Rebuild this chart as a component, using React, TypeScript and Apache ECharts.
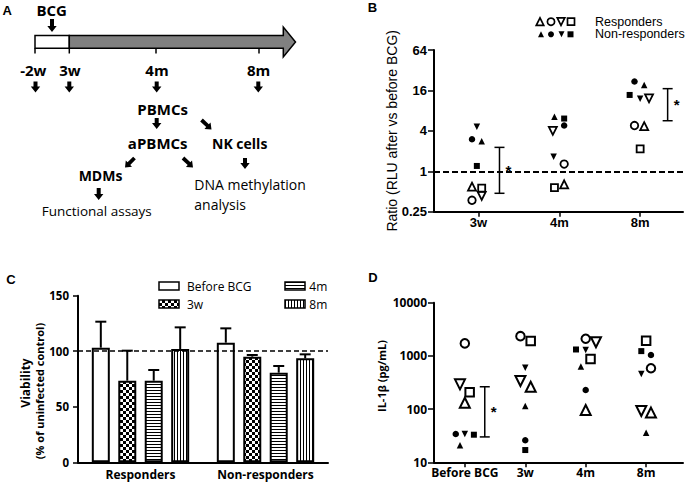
import React, { useEffect, useRef } from 'react';
import * as echarts from 'echarts';

// ---------------- Panel B: ratio (RLU after vs before BCG) ----------------
const bCategories = ['3w', '4m', '8m'];
const bRespTriangle = [0.59, 0.64, 4.7];
const bRespCircle = [0.37, 1.28, 4.8];
const bRespInvTriangle = [0.43, 4.0, 12.2];
const bRespSquare = [0.56, 0.57, 2.15];
const bNonTriangle = [2.8, 6.5, 19.3];
const bNonCircle = [3.0, 4.8, 21.7];
const bNonInvTriangle = [4.6, 1.65, 12.0];
const bNonSquare = [1.2, 6.1, 13.7];
// horizontal jitter (category units)
const bJitRespTriangle = [-0.08, 0.06, 0.05];
const bJitRespCircle = [-0.08, 0.06, -0.07];
const bJitRespInvTriangle = [0.04, -0.08, 0.11];
const bJitRespSquare = [0.04, -0.06, 0];
const bJitNonTriangle = [0.04, -0.06, 0.05];
const bJitNonCircle = [-0.08, 0.06, -0.07];
const bJitNonInvTriangle = [-0.02, -0.07, 0];
const bJitNonSquare = [-0.02, 0.06, -0.13];
// significance brackets: [category, low, high]
const bBrackets = [[0, 0.47, 2.27], [2, 5.66, 17]];
const bBracketShift = [0.26, 0.34];

// ---------------- Panel C: viability ----------------
const cCategories = ['Responders', 'Non-responders'];
const cNames = ['Before BCG', '3w', '4m', '8m'];
const cBeforeMean = [103.2, 107.7];
const c3wMean = [73.5, 95.1];
const c4mMean = [73.5, 80.7];
const c8mMean = [102, 93.6];
const cBeforeErr = [23.4, 12.9];
const c3wErr = [27, 1.5];
const c4mErr = [9.6, 6];
const c8mErr = [19.5, 3.6];

// ---------------- Panel D: IL-1β ----------------
const dCategories = ['Before BCG', '3w', '4m', '8m'];
const dRespTriangle = [132, 263, 96, 86];
const dRespCircle = [1718, 2350, 2100, 585];
const dRespInvTriangle = [292, 337, 1800, 92];
const dRespSquare = [207, 1900, 870, 1930];
const dNonTriangle = [21, 114, 630, 36];
const dNonCircle = [34, 26, 228, 1040];
const dNonInvTriangle = [34, 600, 1290, 455];
const dNonSquare = [33, 17, 1320, 1230];
const dJitRespTriangle = [0, 0.09, 0, 0.08];
const dJitRespCircle = [0, -0.08, 0, 0.08];
const dJitRespInvTriangle = [-0.08, -0.08, 0.17, -0.08];
const dJitRespSquare = [0.08, 0.09, 0.08, 0];
const dJitNonTriangle = [-0.08, 0, -0.08, 0];
const dJitNonCircle = [-0.15, 0, 0, 0.08];
const dJitNonInvTriangle = [0, 0, 0, -0.08];
const dJitNonSquare = [0.15, 0, -0.16, -0.08];
const dBrackets = [[0, 30, 263]];
const dBracketShift = [0.33];

const W = 685;
const H = 484;
const FB = '"Liberation Sans", Arial, sans-serif';
const FO = '"Open Sans", "Noto Sans", sans-serif';
const BAR_W = 18;
const BAR_GAP = 0.47;

function makePattern(kind: string) {
  const c = document.createElement('canvas');
  const ctx = c.getContext('2d')!;
  if (kind === 'checker') {
    c.width = 6; c.height = 6;
    ctx.fillStyle = '#fff'; ctx.fillRect(0, 0, 6, 6);
    ctx.fillStyle = '#000'; ctx.fillRect(0, 0, 3, 3); ctx.fillRect(3, 3, 3, 3);
  } else if (kind === 'h') {
    c.width = 4; c.height = 3;
    ctx.fillStyle = '#fff'; ctx.fillRect(0, 0, 4, 3);
    ctx.fillStyle = '#000'; ctx.fillRect(0, 0, 4, 1);
  } else if (kind === 'v') {
    c.width = 3; c.height = 4;
    ctx.fillStyle = '#fff'; ctx.fillRect(0, 0, 3, 4);
    ctx.fillStyle = '#000'; ctx.fillRect(0, 0, 1, 4);
  } else {
    return '#fff';
  }
  return { image: c, repeat: 'repeat', imageWidth: c.width, imageHeight: c.height } as any;
}

function scatter(values: number[], jit: number[], shape: string, open: boolean, xi: number, yi: number, openSize: number, filledSize: number, bw: number) {
  return {
    type: 'scatter',
    xAxisIndex: xi,
    yAxisIndex: yi,
    symbol: shape === 'inv' ? 'triangle' : shape,
    symbolRotate: shape === 'inv' ? 180 : 0,
    symbolSize: open ? openSize : filledSize,
    itemStyle: open
      ? { color: '#fff', borderColor: '#000', borderWidth: bw, opacity: 1 }
      : { color: '#000', borderWidth: 0, opacity: 1 },
    data: values.map((v, i) => [i + jit[i], v]),
    z: 5,
  };
}

function bracketSeries(data: number[][], shifts: number[], xi: number, yi: number, logBase: number) {
  return {
    type: 'custom',
    xAxisIndex: xi,
    yAxisIndex: yi,
    encode: { x: 0, y: [1, 2] },
    data: data.map((b, i) => [b[0] + shifts[i], b[1], b[2]]),
    renderItem: (_p: any, api: any) => {
      const x = api.value(0);
      const lo = api.value(1);
      const hi = api.value(2);
      const t = api.coord([x, hi]);
      const b = api.coord([x, lo]);
      const mid = api.coord([x, Math.pow(logBase, (Math.log(lo) + Math.log(hi)) / 2 / Math.log(logBase))]);
      const cap = 5;
      const st = { stroke: '#000', lineWidth: 1.5 };
      return {
        type: 'group',
        children: [
          { type: 'line', shape: { x1: t[0], y1: t[1], x2: b[0], y2: b[1] }, style: st },
          { type: 'line', shape: { x1: t[0] - cap, y1: t[1], x2: t[0] + cap, y2: t[1] }, style: st },
          { type: 'line', shape: { x1: b[0] - cap, y1: b[1], x2: b[0] + cap, y2: b[1] }, style: st },
          {
            type: 'text',
            style: { text: '*', x: t[0] + 9, y: mid[1], fill: '#000', font: 'bold 15px ' + FB, textAlign: 'center', textVerticalAlign: 'middle' },
          },
        ],
      };
    },
    z: 4,
  };
}

function arrowPts(x0: number, y0: number, x1: number, y1: number, sw = 2, hw = 4.7, hl = 6) {
  const dx = x1 - x0, dy = y1 - y0;
  const L = Math.hypot(dx, dy);
  const ux = dx / L, uy = dy / L;
  const px = -uy, py = ux;
  const bx = x1 - ux * hl, by = y1 - uy * hl;
  return [
    [x0 + px * sw, y0 + py * sw],
    [bx + px * sw, by + py * sw],
    [bx + px * hw, by + py * hw],
    [x1, y1],
    [bx - px * hw, by - py * hw],
    [bx - px * sw, by - py * sw],
    [x0 - px * sw, y0 - py * sw],
  ];
}

function txt(text: string, x: number, y: number, font: string, align = 'center', rotation = 0) {
  return {
    type: 'text',
    x, y, rotation,
    style: { text, x: 0, y: 0, fill: '#000', font, textAlign: align, textVerticalAlign: 'middle' },
    z: 10,
  };
}

function tri(cx: number, cy: number, s: number, inv: boolean) {
  const h = s / 2;
  return inv
    ? [[cx - h, cy - h], [cx + h, cy - h], [cx, cy + h]]
    : [[cx, cy - h], [cx + h, cy + h], [cx - h, cy + h]];
}

function buildGraphic() {
  const patterns = [makePattern('none'), makePattern('checker'), makePattern('h'), makePattern('v')];
  const arrows = [
    arrowPts(52, 19, 52, 32),
    arrowPts(35.5, 81.5, 35.5, 92.5),
    arrowPts(69.3, 81.5, 69.3, 92.5),
    arrowPts(156.7, 81.5, 156.7, 92.5),
    arrowPts(258.3, 81.5, 258.3, 92.5),
    arrowPts(156.7, 118, 156.7, 129),
    arrowPts(201.5, 120, 211.5, 129.5, 1.9, 4.4, 5.5),
    arrowPts(134.5, 158, 125, 167.5, 1.9, 4.4, 5.5),
    arrowPts(183, 158, 193, 167.5, 1.9, 4.4, 5.5),
    arrowPts(245, 158, 245, 169),
    arrowPts(98.7, 188, 98.7, 200),
  ];

  return [
    // Panel A timeline
    { type: 'rect', shape: { x: 35, y: 35.5, width: 34.3, height: 12.8 }, style: { fill: '#fff', stroke: '#000', lineWidth: 1.5 } },
    {
      type: 'polygon',
      shape: { points: [[69.3, 35.5], [283.3, 35.5], [283.3, 27], [295.5, 42], [283.3, 57], [283.3, 48.3], [69.3, 48.3]] },
      style: { fill: '#808080', stroke: '#000', lineWidth: 1.5 },
    },
    ...[35, 69.3, 156, 259].map((x) => ({ type: 'line', shape: { x1: x, y1: 48.3, x2: x, y2: 53.5 }, style: { stroke: '#000', lineWidth: 1.5 } })),
    ...arrows.map((p) => ({ type: 'polygon', shape: { points: p }, style: { fill: '#000' } })),
    txt('A', 7.2, 10.8, 'bold 13px ' + FB),
    txt('BCG', 51.7, 10, 'bold 15px ' + FO),
    txt('-2w', 33.3, 70, 'bold 15px ' + FO),
    txt('3w', 70, 70, 'bold 15px ' + FO),
    txt('4m', 157, 70, 'bold 15px ' + FO),
    txt('8m', 258.7, 70, 'bold 15px ' + FO),
    txt('PBMCs', 162.7, 108.7, 'bold 15px ' + FO),
    txt('aPBMCs', 157.7, 143, 'bold 15px ' + FO),
    txt('NK cells', 239.7, 143, 'bold 14px ' + FO),
    txt('MDMs', 100.5, 175.3, 'bold 14px ' + FO),
    txt('DNA methylation', 194.3, 184, '14px ' + FO, 'left'),
    txt('analysis', 194.3, 204.5, '14px ' + FO, 'left'),
    txt('Functional assays', 41.7, 211, '13.5px ' + FO, 'left'),

    // Panel letters
    txt('B', 372.5, 7.5, 'bold 13px ' + FB),
    txt('C', 11, 279, 'bold 13px ' + FB),
    txt('D', 373, 277.5, 'bold 13px ' + FB),

    // Axis titles
    txt('Ratio (RLU after vs before BCG)', 391.5, 130.8, '14px ' + FB, 'center', Math.PI / 2),
    txt('Viability', 25.5, 383, 'bold 12px ' + FO, 'center', Math.PI / 2),
    txt('(% of uninfected control)', 39.5, 391, 'bold 11px ' + FO, 'center', Math.PI / 2),
    txt('IL-1β (pg/mL)', 381, 376, 'bold 11px ' + FO, 'center', Math.PI / 2),

    // Panel B legend
    { type: 'polygon', shape: { points: tri(540, 21.7, 7.5, false) }, style: { fill: '#fff', stroke: '#000', lineWidth: 1.7 } },
    { type: 'circle', shape: { cx: 551, cy: 21.7, r: 3.6 }, style: { fill: '#fff', stroke: '#000', lineWidth: 1.7 } },
    { type: 'polygon', shape: { points: tri(561, 21.7, 7.5, true) }, style: { fill: '#fff', stroke: '#000', lineWidth: 1.7 } },
    { type: 'rect', shape: { x: 567.5, y: 18.2, width: 7, height: 7 }, style: { fill: '#fff', stroke: '#000', lineWidth: 1.7 } },
    { type: 'polygon', shape: { points: tri(541, 34.3, 6, false) }, style: { fill: '#000' } },
    { type: 'circle', shape: { cx: 551, cy: 34.3, r: 3 }, style: { fill: '#000' } },
    { type: 'polygon', shape: { points: tri(561.5, 34.3, 6, true) }, style: { fill: '#000' } },
    { type: 'rect', shape: { x: 567.5, y: 31.3, width: 6, height: 6 }, style: { fill: '#000' } },
    txt('Responders', 595, 21.7, '12.5px ' + FB, 'left'),
    txt('Non-responders', 595, 34.3, '12.5px ' + FB, 'left'),

    // Panel C legend
    ...[
      [159, 282, 187, 286, 0],
      [159, 300, 187, 304, 1],
      [285, 282, 309.3, 286, 2],
      [285, 300, 309.3, 304, 3],
    ].flatMap(([bx, by, tx, ty, i]) => [
      { type: 'rect', shape: { x: bx, y: by, width: 20, height: 8 }, style: { fill: patterns[i], stroke: '#000', lineWidth: 1.5 } },
      txt(cNames[i], tx, ty, '12px ' + FO, 'left'),
    ]),
  ];
}

function buildOption() {
  const patterns = [makePattern('none'), makePattern('checker'), makePattern('h'), makePattern('v')];
  const cMeans = [cBeforeMean, c3wMean, c4mMean, c8mMean];
  const cErrs = [cBeforeErr, c3wErr, c4mErr, c8mErr];

  // GraphPad-style minor ticks (axis furniture, not data)
  const bMinor: number[] = [];
  [0.25, 1, 4, 16].forEach((v0) => { for (let k = 1; k <= 11; k++) bMinor.push(v0 * (1 + k / 4)); });
  const dMinor: number[] = [];
  [10, 100, 1000].forEach((v0) => { for (let k = 2; k <= 9; k++) dMinor.push(v0 * k); });

  const axisLineStyle = { color: '#000', width: 2 };
  const tickStyle = { color: '#000', width: 1.5 };

  const bSeries = [
    scatter(bNonTriangle, bJitNonTriangle, 'triangle', false, 0, 0, 7.5, 6.5, 1.8),
    scatter(bNonCircle, bJitNonCircle, 'circle', false, 0, 0, 7.5, 6.5, 1.8),
    scatter(bNonInvTriangle, bJitNonInvTriangle, 'inv', false, 0, 0, 7.5, 6.5, 1.8),
    scatter(bNonSquare, bJitNonSquare, 'rect', false, 0, 0, 7.5, 6, 1.8),
    scatter(bRespTriangle, bJitRespTriangle, 'triangle', true, 0, 0, 8, 6.5, 1.8),
    scatter(bRespCircle, bJitRespCircle, 'circle', true, 0, 0, 7.5, 6.5, 1.8),
    scatter(bRespInvTriangle, bJitRespInvTriangle, 'inv', true, 0, 0, 8, 6.5, 1.8),
    scatter(bRespSquare, bJitRespSquare, 'rect', true, 0, 0, 7, 6.5, 1.8),
    bracketSeries(bBrackets, bBracketShift, 0, 0, 4),
    {
      type: 'line', xAxisIndex: 0, yAxisIndex: 0, data: [], z: 1,
      markLine: {
        silent: true, symbol: ['none', 'none'], label: { show: false },
        lineStyle: { type: [6, 3], color: '#000', width: 2 },
        data: [{ yAxis: 1 }],
      },
    },
  ];

  const cSeries: any[] = cMeans.map((m, i) => ({
    type: 'bar',
    name: cNames[i],
    xAxisIndex: 1,
    yAxisIndex: 2,
    barWidth: BAR_W,
    barGap: BAR_GAP * 100 + '%',
    data: m,
    itemStyle: { color: patterns[i], borderColor: '#000', borderWidth: 2 },
    z: 3,
  }));
  cSeries.push({
    type: 'custom',
    xAxisIndex: 1,
    yAxisIndex: 2,
    encode: { x: 0, y: 1 },
    data: cMeans.flatMap((m, si) => m.map((v, ci) => [ci, v, cErrs[si][ci], si])),
    renderItem: (_p: any, api: any) => {
      const ci = api.value(0);
      const m = api.value(1);
      const e = api.value(2);
      const si = api.value(3);
      const base = api.coord([ci, m]);
      const top = api.coord([ci, m + e]);
      const x = base[0] + (si - 1.5) * (BAR_W * (1 + BAR_GAP));
      const st = { stroke: '#000', lineWidth: 2 };
      return {
        type: 'group',
        children: [
          { type: 'line', shape: { x1: x, y1: base[1], x2: x, y2: top[1] }, style: st },
          { type: 'line', shape: { x1: x - 5.5, y1: top[1], x2: x + 5.5, y2: top[1] }, style: st },
        ],
      };
    },
    z: 4,
  });
  cSeries.push({
    type: 'line', xAxisIndex: 1, yAxisIndex: 2, data: [], z: 1,
    markLine: {
      silent: true, symbol: ['none', 'none'], label: { show: false },
      lineStyle: { type: [5, 3], color: '#000', width: 1.5 },
      data: [{ yAxis: 100 }],
    },
  });

  const dSeries = [
    scatter(dNonTriangle, dJitNonTriangle, 'triangle', false, 2, 3, 9, 6.5, 2),
    scatter(dNonCircle, dJitNonCircle, 'circle', false, 2, 3, 9, 6.5, 2),
    scatter(dNonInvTriangle, dJitNonInvTriangle, 'inv', false, 2, 3, 9, 6.5, 2),
    scatter(dNonSquare, dJitNonSquare, 'rect', false, 2, 3, 9, 6, 2),
    scatter(dRespTriangle, dJitRespTriangle, 'triangle', true, 2, 3, 10, 6.5, 2),
    scatter(dRespCircle, dJitRespCircle, 'circle', true, 2, 3, 8.5, 6.5, 2),
    scatter(dRespInvTriangle, dJitRespInvTriangle, 'inv', true, 2, 3, 10, 6.5, 2),
    scatter(dRespSquare, dJitRespSquare, 'rect', true, 2, 3, 8.5, 6.5, 2),
    bracketSeries(dBrackets, dBracketShift, 2, 3, 10),
  ];

  return {
    animation: false,
    backgroundColor: '#fff',
    grid: [
      { left: 434, top: 50, width: 249, height: 161.7 },
      { left: 78, top: 295.7, width: 250, height: 166.6 },
      { left: 434, top: 302.7, width: 249, height: 159.6 },
    ],
    xAxis: [
      {
        type: 'value', gridIndex: 0, min: -0.55, max: 2.53,
        axisLine: { show: true, onZero: false, lineStyle: axisLineStyle },
        axisTick: { show: true, customValues: [0, 1, 2], length: 5, lineStyle: tickStyle },
        axisLabel: {
          customValues: [0, 1, 2], formatter: (v: number) => bCategories[Math.round(v)],
          color: '#000', fontFamily: FB, fontWeight: 'bold', fontSize: 13, margin: 4,
        },
        splitLine: { show: false },
      },
      {
        type: 'category', gridIndex: 1, data: cCategories,
        axisLine: { show: true, onZero: false, lineStyle: axisLineStyle },
        axisTick: { show: false },
        axisLabel: { interval: 0, color: '#000', fontFamily: FO, fontWeight: 'bold', fontSize: 12, margin: 6 },
      },
      {
        type: 'value', gridIndex: 2, min: -0.51, max: 3.61,
        axisLine: { show: true, onZero: false, lineStyle: axisLineStyle },
        axisTick: { show: true, customValues: [0, 1, 2, 3], length: 5, lineStyle: tickStyle },
        axisLabel: {
          customValues: [0, 1, 2, 3], formatter: (v: number) => dCategories[Math.round(v)],
          color: '#000', fontFamily: FO, fontWeight: 'bold', fontSize: 12, margin: 4,
        },
        splitLine: { show: false },
      },
    ],
    yAxis: [
      {
        type: 'log', logBase: 4, gridIndex: 0, min: 0.25, max: 64,
        axisLine: { show: true, onZero: false, lineStyle: axisLineStyle },
        axisTick: { show: true, length: 6, lineStyle: tickStyle },
        axisLabel: {
          formatter: (v: number) => String(v),
          color: '#000', fontFamily: FB, fontWeight: 'bold', fontSize: 13, margin: 7,
        },
        splitLine: { show: false },
      },
      {
        // minor ticks on the B axis (same scale, drawn on top, no line/labels)
        type: 'log', logBase: 4, gridIndex: 0, min: 0.25, max: 64, position: 'right', offset: 249,
        axisLine: { show: false, onZero: false },
        axisTick: { show: true, inside: true, customValues: bMinor, length: 4, lineStyle: { color: '#000', width: 1.2 } },
        axisLabel: { show: false },
        splitLine: { show: false },
      },
      {
        type: 'value', gridIndex: 1, min: 0, max: 150, interval: 50,
        axisLine: { show: true, onZero: false, lineStyle: axisLineStyle },
        axisTick: { show: true, length: 5, lineStyle: tickStyle },
        axisLabel: { color: '#000', fontFamily: FO, fontWeight: 'bold', fontSize: 11.5, margin: 9 },
        splitLine: { show: false },
      },
      {
        type: 'log', logBase: 10, gridIndex: 2, min: 10, max: 10000,
        axisLine: { show: true, onZero: false, lineStyle: axisLineStyle },
        axisTick: { show: true, length: 6, lineStyle: tickStyle },
        axisLabel: {
          formatter: (v: number) => String(v),
          color: '#000', fontFamily: FO, fontWeight: 'bold', fontSize: 12, margin: 7,
        },
        splitLine: { show: false },
      },
      {
        type: 'log', logBase: 10, gridIndex: 2, min: 10, max: 10000, position: 'right', offset: 249,
        axisLine: { show: false, onZero: false },
        axisTick: { show: true, inside: true, customValues: dMinor, length: 4, lineStyle: { color: '#000', width: 1.2 } },
        axisLabel: { show: false },
        splitLine: { show: false },
      },
    ],
    series: [...bSeries, ...cSeries, ...dSeries],
    graphic: buildGraphic(),
  };
}

export default function App() {
  const ref = useRef<HTMLDivElement>(null);
  useEffect(() => {
    document.body.style.margin = '0';
    const chart = echarts.init(ref.current!, null, { renderer: 'svg' });
    chart.setOption(buildOption() as any);
    return () => chart.dispose();
  }, []);
  return <div ref={ref} style={{ width: W, height: H, position: 'absolute', left: 0, top: 0 }} />;
}
